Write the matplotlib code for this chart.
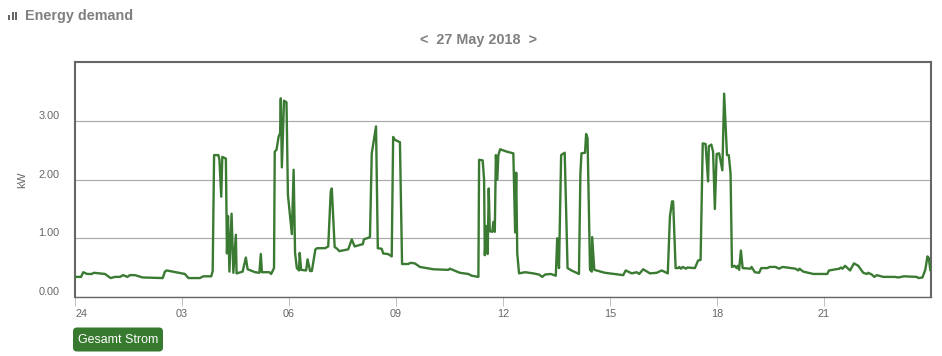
# -*- coding: utf-8 -*-

import matplotlib
matplotlib.use("Agg")
import matplotlib.pyplot as plt
from matplotlib.patches import FancyBboxPatch, Rectangle

W, H = 942, 356
GREEN = "#3a7a32"
GREY = "#666666"

hours = [
    0.00, 0.17, 0.23, 0.34, 0.47, 0.53, 0.84, 1.00, 1.12, 1.26, 1.35, 1.47, 1.54, 1.68, 1.90, 2.46,
    2.52, 2.57, 3.08, 3.18, 3.50, 3.60, 3.82, 3.86, 3.90, 4.02, 4.05, 4.10, 4.13, 4.23, 4.26, 4.29,
    4.33, 4.39, 4.44, 4.51, 4.53, 4.70, 4.79, 4.84, 5.05, 5.17, 5.21, 5.24, 5.45, 5.50, 5.58, 5.60,
    5.65, 5.71, 5.75, 5.77, 5.80, 5.86, 5.93, 5.97, 6.08, 6.13, 6.17, 6.22, 6.28, 6.30, 6.34, 6.48,
    6.52, 6.59, 6.64, 6.74, 6.79, 7.01, 7.10, 7.17, 7.20, 7.28, 7.35, 7.41, 7.66, 7.76, 7.84, 8.07,
    8.10, 8.27, 8.32, 8.44, 8.49, 8.60, 8.64, 8.78, 8.88, 8.92, 8.97, 9.11, 9.17, 9.34, 9.41, 9.53,
    9.67, 10.05, 10.47, 10.51, 10.79, 11.03, 11.12, 11.31, 11.33, 11.43, 11.47, 11.49, 11.53, 11.57,
    11.60, 11.63, 11.70, 11.73, 11.77, 11.80, 11.84, 11.87, 11.92, 12.10, 12.29, 12.34, 12.37, 12.40,
    12.45, 12.62, 12.85, 13.01, 13.10, 13.18, 13.34, 13.48, 13.52, 13.57, 13.63, 13.73, 13.81, 13.92,
    14.13, 14.17, 14.20, 14.30, 14.33, 14.37, 14.44, 14.49, 14.50, 14.56, 14.86, 15.37, 15.44, 15.61,
    15.75, 15.82, 15.93, 16.12, 16.31, 16.45, 16.62, 16.68, 16.74, 16.77, 16.84, 16.91, 16.94, 16.99,
    17.04, 17.13, 17.17, 17.38, 17.47, 17.54, 17.60, 17.68, 17.75, 17.77, 17.84, 17.89, 17.94, 17.99,
    18.06, 18.15, 18.20, 18.28, 18.33, 18.38, 18.42, 18.49, 18.55, 18.58, 18.62, 18.67, 18.72, 18.94,
    18.97, 19.06, 19.18, 19.24, 19.41, 19.48, 19.64, 19.74, 19.84, 20.20, 20.28, 20.31, 20.42, 20.70,
    21.09, 21.14, 21.43, 21.47, 21.52, 21.59, 21.73, 21.84, 21.96, 22.10, 22.20, 22.24, 22.34, 22.41,
    22.48, 22.66, 22.99, 23.08, 23.24, 23.60, 23.65, 23.76, 23.84, 23.90, 23.94, 23.98,
]
power = [
    0.34, 0.34, 0.42, 0.39, 0.39, 0.41, 0.39, 0.32, 0.34, 0.34, 0.37, 0.34, 0.37, 0.37, 0.33, 0.32,
    0.43, 0.45, 0.39, 0.32, 0.32, 0.35, 0.35, 0.44, 2.42, 2.42, 2.34, 1.71, 2.39, 2.36, 0.74, 1.38,
    0.43, 1.42, 0.41, 1.06, 0.40, 0.43, 0.67, 0.47, 0.42, 0.41, 0.73, 0.42, 0.42, 0.39, 0.49, 2.48,
    2.51, 2.74, 2.79, 3.39, 2.21, 3.35, 3.32, 1.74, 1.07, 2.17, 0.75, 0.49, 0.45, 0.75, 0.46, 0.45,
    0.64, 0.44, 0.44, 0.81, 0.83, 0.83, 0.86, 1.80, 1.85, 0.85, 0.82, 0.78, 0.81, 0.98, 0.86, 0.90,
    0.98, 1.02, 2.45, 2.91, 0.83, 0.82, 0.74, 0.73, 0.69, 2.73, 2.68, 2.64, 0.56, 0.56, 0.58, 0.57,
    0.51, 0.47, 0.46, 0.48, 0.41, 0.39, 0.36, 0.34, 2.34, 2.33, 2.00, 0.71, 1.21, 0.73,
    1.85, 1.12, 1.11, 1.28, 1.11, 2.42, 2.00, 2.42, 2.52, 2.48, 2.45, 1.10, 2.12, 0.74,
    0.40, 0.42, 0.40, 0.38, 0.34, 0.38, 0.39, 0.36, 1.00, 0.49, 2.42, 2.46, 0.49, 0.45,
    0.39, 2.11, 2.45, 2.46, 2.78, 2.71, 0.46, 0.43, 1.02, 0.46, 0.41, 0.37, 0.45, 0.40,
    0.42, 0.39, 0.47, 0.40, 0.41, 0.45, 0.40, 1.37, 1.63, 1.63, 0.49, 0.49, 0.51, 0.48,
    0.51, 0.48, 0.50, 0.49, 0.62, 0.63, 2.62, 2.61, 1.97, 2.57, 2.60, 2.48, 1.50, 2.44,
    2.45, 2.16, 3.47, 2.42, 2.42, 2.11, 0.51, 0.53, 0.49, 0.53, 0.46, 0.79, 0.49, 0.48,
    0.51, 0.42, 0.41, 0.49, 0.49, 0.51, 0.51, 0.48, 0.51, 0.48, 0.45, 0.48, 0.43, 0.39,
    0.39, 0.45, 0.48, 0.50, 0.48, 0.53, 0.45, 0.57, 0.53, 0.41, 0.39, 0.41, 0.38, 0.34,
    0.37, 0.34, 0.34, 0.33, 0.35, 0.34, 0.32, 0.33, 0.46, 0.69, 0.66, 0.46,
]
x_ticks = [0, 3, 6, 9, 12, 15, 18, 21]
x_labels = ["24", "03", "06", "09", "12", "15", "18", "21"]
y_ticks = [0, 1, 2, 3]
y_labels = ["0.00", "1.00", "2.00", "3.00"]
icon_bars = [(8, 15), (11.5, 11.5), (15, 12)]

plt.rcParams["font.family"] = ["Liberation Sans", "DejaVu Sans"]

fig = plt.figure(figsize=(W / 100, H / 100), dpi=100)
ax = fig.add_axes([75 / W, 1 - 296.8 / H, 856 / W, 234.8 / H])
ax.plot(hours, power, color=GREEN, lw=1.7, solid_joinstyle="round", zorder=3)
ax.set_xlim(0, 24)
ax.set_ylim(0, 4.01)
ax.set_xticks(x_ticks, x_labels)
ax.set_yticks(y_ticks, y_labels)
ax.yaxis.grid(True, color="#aaaaaa", lw=0.85)
ax.set_axisbelow(True)
ax.tick_params(axis="y", length=0, pad=11, labelsize=7.8, labelcolor=GREY)
ax.tick_params(axis="x", length=6.2, width=0.6, color="#b5b5b5", pad=2.5, labelsize=7.8, labelcolor=GREY)
ax.get_xticklabels()[0].set_ha("left")
ax.get_xticklabels()[0].set_x(0.06)
for lab in ax.get_yticklabels():
    lab.set_va("bottom")
for side in ["top", "left", "right"]:
    ax.spines[side].set_color(GREY)
    ax.spines[side].set_linewidth(1.5)
ax.spines["bottom"].set_color(GREY)
ax.spines["bottom"].set_linewidth(1.0)
ax.set_ylabel("kW", color=GREY, fontsize=8.2)
ax.yaxis.set_label_coords((27 - 75) / 856, 0.5)

# page furniture around the chart, in pixel coordinates
page = fig.add_axes([0, 0, 1, 1], facecolor="none")
page.set_xlim(0, W)
page.set_ylim(H, 0)
page.axis("off")
for left, top in icon_bars:
    page.add_patch(Rectangle((left, top), 2.4, 20 - top, color=GREY, lw=0))
page.text(25, 16, "Energy demand", color="#808080", fontsize=10.4, fontweight="bold", va="center")
page.text(478, 40, "<  27 May 2018  >", color="#808080", fontsize=10.4, fontweight="bold",
          ha="center", va="center")
page.add_patch(FancyBboxPatch((76, 330.5), 84, 18, boxstyle="round,pad=3,rounding_size=4",
                              fc="#37792f", ec="none"))
page.text(118, 340, "Gesamt Strom", color="white", fontsize=8.9, ha="center", va="center")

fig.savefig("out.png", dpi=100)
